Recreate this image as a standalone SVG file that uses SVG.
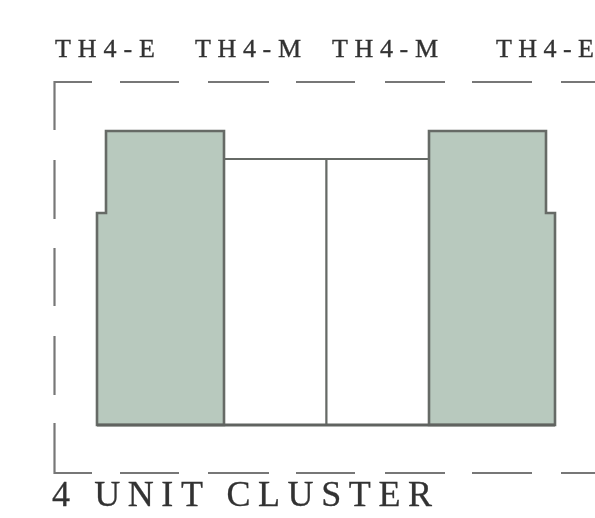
<svg xmlns="http://www.w3.org/2000/svg" width="595" height="518" viewBox="0 0 595 518">
<defs><filter id="soft" x="-5%" y="-5%" width="110%" height="110%"><feGaussianBlur stdDeviation="0.55"/></filter></defs>
<style>
.lbl{font-family:"Liberation Serif","Times New Roman",serif;fill:#333;stroke:#333;stroke-width:.35px;font-size:26px}
.big{font-size:36px;stroke-width:.3px}
.dash{fill:none;stroke:#777;stroke-width:2.2}
.unit{stroke:#666a66;stroke-width:2.6}
.end{fill:#b8c9be}
.mid{fill:#fff;stroke-width:2}
.base{stroke:#606460;stroke-width:3.2;fill:none}
</style>
<rect width="595" height="518" fill="#fff"/>
<g filter="url(#soft)">
<g id="boundary">
<path class="dash" d="M92 82H54.500V130M120 82H179M208 82H269M296 82H355M385 82H445M472 82H532M561 82H595"/>
<path class="dash" d="M54.500 160V219M54.500 248V306M54.500 336V395M54.500 423V473H92M120 473H179M208 473H269M296 473H355M385 473H445M472 473H532M561 473H595"/>
</g>
<g id="unit-m1"><rect class="unit mid" x="224" y="159" width="102.500" height="266"/></g>
<g id="unit-m2"><rect class="unit mid" x="326.500" y="159" width="102.500" height="266"/></g>
<g id="unit-e1"><path class="unit end" d="M106 131H224V425H97V213H106Z"/></g>
<g id="unit-e2"><path class="unit end" d="M429 131H546V213H555V425H429Z"/></g>
<path class="base" d="M97 425H555"/>
<g id="labels">
<text class="lbl" x="55" y="57" textLength="100" lengthAdjust="spacing">TH4-E</text>
<text class="lbl" x="195" y="57" textLength="106" lengthAdjust="spacing">TH4-M</text>
<text class="lbl" x="332" y="57" textLength="106" lengthAdjust="spacing">TH4-M</text>
<text class="lbl" x="496" y="57" textLength="98" lengthAdjust="spacing">TH4-E</text>
<text class="lbl big" x="52" y="506" textLength="380" lengthAdjust="spacing">4 UNIT CLUSTER</text>
</g>
</g>
</svg>
